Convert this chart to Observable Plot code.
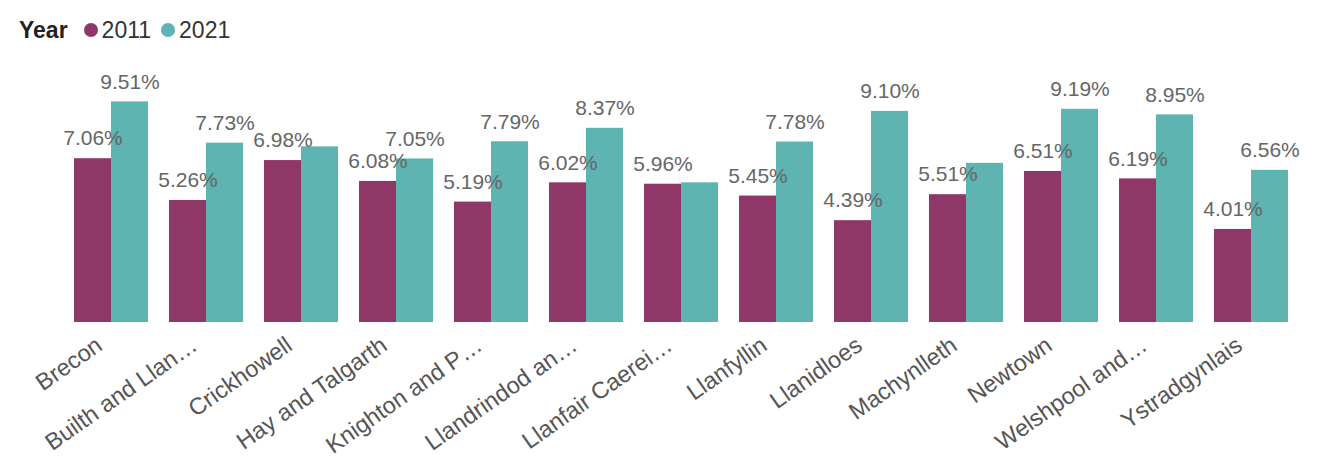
<!DOCTYPE html>
<html>
<head>
<meta charset="utf-8">
<script src="https://cdn.jsdelivr.net/npm/d3@7"></script>
<script src="https://cdn.jsdelivr.net/npm/@observablehq/plot@0.6"></script>
<style>
  html, body { margin: 0; padding: 0; background: #fff; }
  body { width: 1320px; height: 459px; overflow: hidden; font-family: "Liberation Sans", Arial, sans-serif; }
  #legend { height: 50px; display: flex; align-items: center; padding-left: 19px; font-size: 23px; color: #333; box-sizing: border-box; padding-top: 10px; }
  #legend b { color: #222; margin-right: 16px; font-size: 23px; }
  #legend .sw { display: inline-block; width: 14px; height: 14px; border-radius: 50%; margin-right: 4px; }
  #legend .item { display: flex; align-items: center; margin-right: 10px; }
</style>
</head>
<body>
<div id="legend"></div>
<div id="chart"></div>
<script>
const categories = ["Brecon", "Builth and Llan…", "Crickhowell", "Hay and Talgarth", "Knighton and P…", "Llandrindod an…", "Llanfair Caerei…", "Llanfyllin", "Llanidloes", "Machynlleth", "Newtown", "Welshpool and…", "Ystradgynlais"];
const years = ["2011", "2021"];
const values2011 = [7.06, 5.26, 6.98, 6.08, 5.19, 6.02, 5.96, 5.45, 4.39, 5.51, 6.51, 6.19, 4.01];
const values2021 = [9.51, 7.73, 7.57, 7.05, 7.79, 8.37, 6.02, 7.78, 9.10, 6.86, 9.19, 8.95, 6.56];
const hiddenLabels2021 = ["Crickhowell", "Llanfair Caerei…", "Machynlleth"];
const colors = ["#8f3767", "#5db4b1"];

const data = [];
categories.forEach((c, i) => {
  data.push({category: c, year: "2011", value: values2011[i], showLabel: true});
  data.push({category: c, year: "2021", value: values2021[i], showLabel: !hiddenLabels2021.includes(c)});
});

const legend = document.getElementById("legend");
legend.innerHTML = "<b>Year</b>" + years.map((y, i) =>
  `<span class="item"><span class="sw" style="background:${colors[i]}"></span>${y}</span>`).join("");

const chart = Plot.plot({
  width: 1320,
  height: 409,
  marginTop: 40,
  marginBottom: 137,
  marginLeft: 61,
  marginRight: 18,
  style: {fontFamily: "Liberation Sans, Arial, sans-serif", background: "#fff"},
  fx: {domain: categories, paddingInner: 0.22, paddingOuter: 0.11, label: null, axis: null},
  x: {domain: years, padding: 0, axis: null},
  y: {domain: [0, 10], axis: null},
  color: {domain: years, range: colors},
  marks: [
    Plot.barY(data, {fx: "category", x: "year", y: "value", fill: "year"}),
    Plot.text(data.filter(d => d.showLabel), {
      fx: "category", x: "year", y: "value",
      text: d => d.value.toFixed(2) + "%",
      dy: -20, fill: "#666", fontSize: 21
    }),
    Plot.axisFx({anchor: "bottom", tickRotate: -35, tickSize: 0, tickPadding: 20, dx: -12, fontSize: 23.5, fill: "#555", label: null})
  ]
});
document.getElementById("chart").appendChild(chart);
</script>
</body>
</html>
